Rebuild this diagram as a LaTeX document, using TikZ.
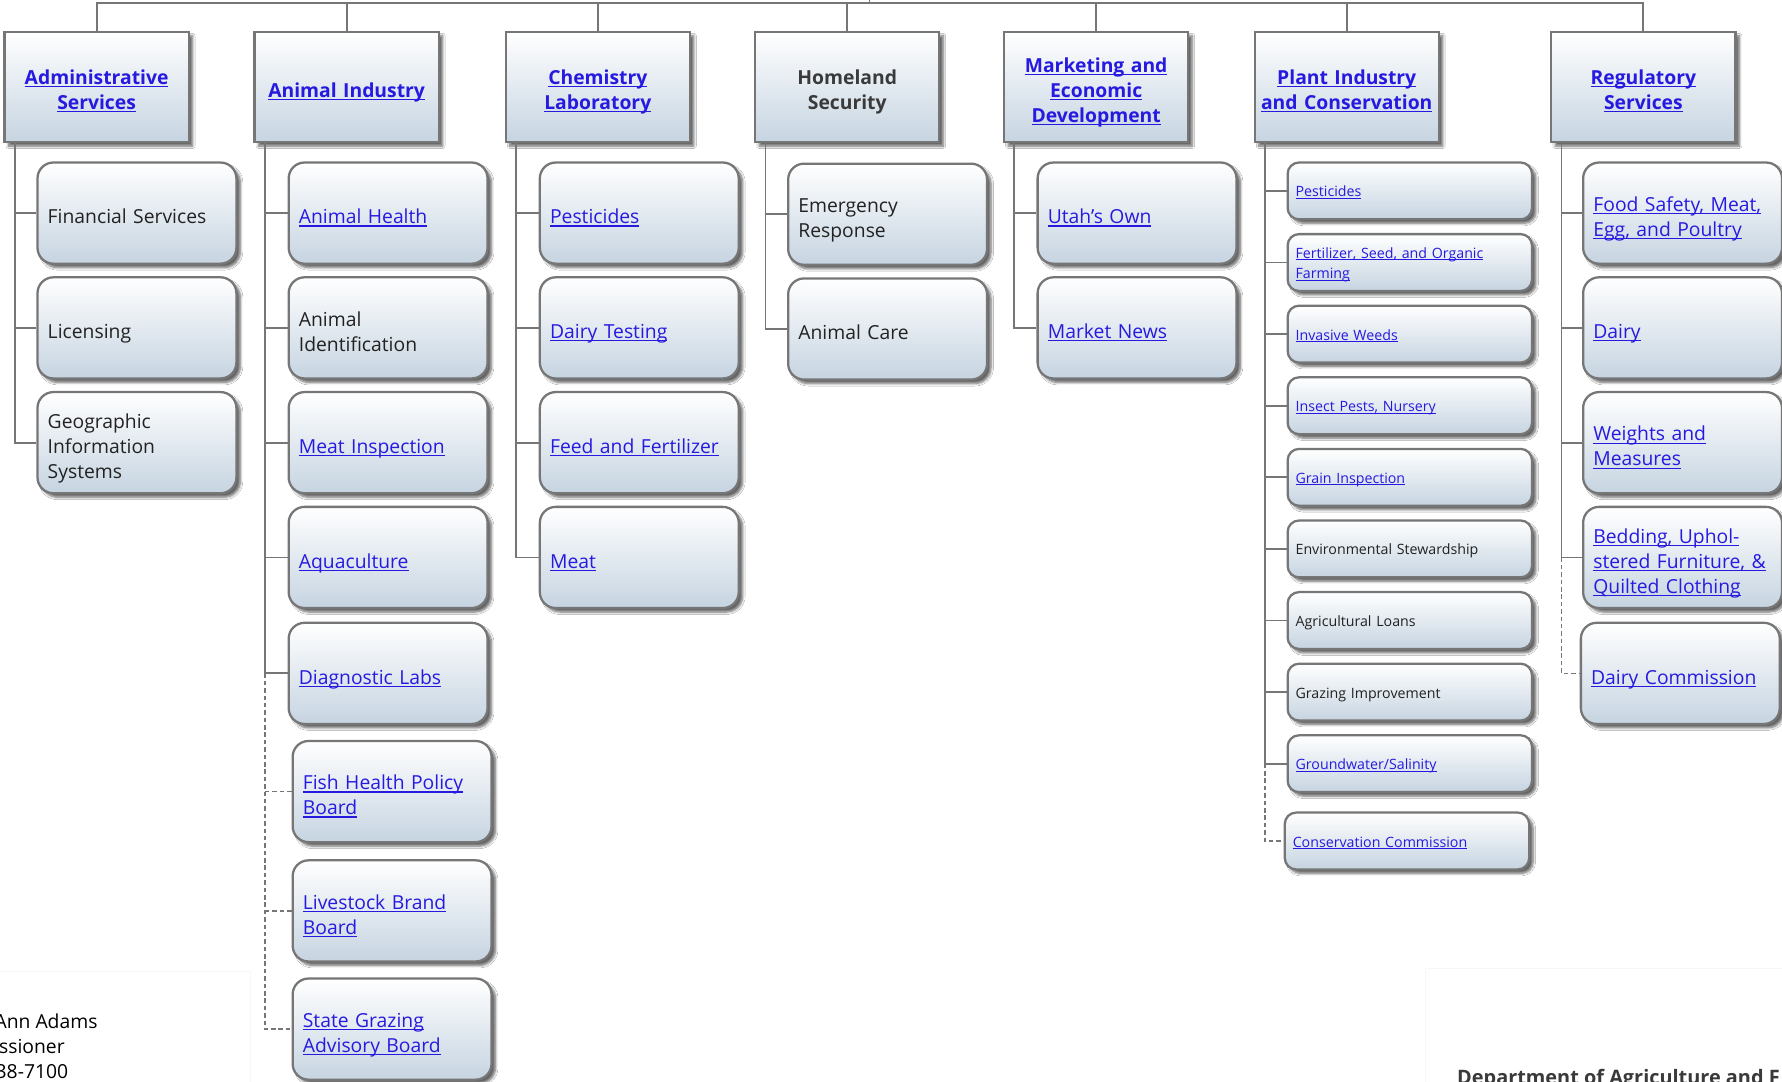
\documentclass[tikz,border=0pt]{standalone}
\usepackage{fontspec}
\setmainfont{Open Sans}
\usetikzlibrary{shadows.blur}
\definecolor{linkblue}{RGB}{38,26,224}
\definecolor{headgray}{RGB}{58,58,58}
\definecolor{textgray}{RGB}{34,34,34}
\definecolor{boxblue}{RGB}{198,212,225}
\definecolor{edgegray}{RGB}{118,118,118}
\newcommand{\lnk}[1]{\textcolor{linkblue}{\setbox0\hbox{#1}\rlap{\rule[-0.14em]{\wd0}{0.06em}}\box0}}
\newcommand{\headstrut}{\rule[-4pt]{0pt}{26pt}}
\newcommand{\bigstrut}{\rule[-4pt]{0pt}{27pt}}
\newcommand{\tailstrut}{\rule[-4pt]{0pt}{21pt}}
\newcommand{\smallstrut}{\rule[-3.2pt]{0pt}{17pt}}

\begin{document}
\begin{tikzpicture}[x=1pt,y=-1pt,
  head/.style={rectangle, draw=edgegray, line width=2pt, top color=white, bottom color=boxblue,
    minimum width=162pt, minimum height=97pt, text width=158pt, align=center, inner sep=0pt,
    font=\fontsize{17}{22}\selectfont\bfseries, text=headgray,
    execute at begin node=\headstrut, execute at end node=\tailstrut,
    blur shadow={shadow xshift=3.5pt, shadow yshift=-3.5pt, shadow blur steps=6, shadow opacity=60}},
  box/.style={rectangle, draw=edgegray, line width=2pt, top color=white, bottom color=boxblue,
    inner ysep=2pt, align=left, text=textgray,
    blur shadow={shadow xshift=3.5pt, shadow yshift=-3.5pt, shadow blur steps=6, shadow opacity=60}},
  unit/.style={box, rounded corners=14pt, text width=157pt, inner xsep=9pt, minimum height=89pt,
    font=\fontsize{17}{22}\selectfont,
    execute at begin node=\bigstrut, execute at end node=\tailstrut},
  small/.style={box, rounded corners=10pt, text width=201pt, inner xsep=7pt, minimum height=50pt,
    font=\fontsize{12.5}{18}\selectfont,
    execute at begin node=\smallstrut, execute at end node=\smallstrut},
  conn/.style={draw=edgegray, line width=1.6pt},
  dashconn/.style={draw=edgegray, line width=1.4pt, dash pattern=on 4pt off 2.5pt},
  foot/.style={anchor=base west, inner sep=0pt, font=\fontsize{17}{22}\selectfont, text=black}]
\useasboundingbox (0,0) rectangle (1568,952);
\clip (0,0) rectangle (1568,952);
\fill [white] (0,0) rectangle (1568,952);
\draw [black!3] (-5,855) rectangle (220,960);
\draw [black!3] (1254,852) rectangle (1580,960);

\node [head] (adm) at (85,76.5) {\lnk{Administrative}\\\lnk{Services}};
\node [head] (ani) at (305,76.5) {\lnk{Animal Industry}};
\node [head] (chm) at (526,76.5) {\lnk{Chemistry}\\\lnk{Laboratory}};
\node [head] (hom) at (745.5,76.5) {Homeland\\Security};
\node [head] (mkt) at (964.5,76.5) {\lnk{Marketing and}\\\lnk{Economic}\\\lnk{Development}};
\node [head] (pln) at (1185,76.5) {\lnk{Plant Industry}\\\lnk{and Conservation}};
\node [head] (reg) at (1446,76.5) {\lnk{Regulatory}\\\lnk{Services}};

\node [unit] (fin) at (120.5,187.5) {Financial Services};
\node [unit] (lic) at (120.5,288.5) {Licensing};
\node [unit] (geo) at (120.5,389.5) {Geographic\\Information\\Systems};

\node [unit] (ahl) at (341.5,187.5) {\lnk{Animal Health}};
\node [unit] (aid) at (341.5,288.5) {Animal\\Identification};
\node [unit] (mti) at (341.5,389.5) {\lnk{Meat Inspection}};
\node [unit] (aqu) at (341.5,490.5) {\lnk{Aquaculture}};
\node [unit] (dia) at (341.5,592.5) {\lnk{Diagnostic Labs}};
\node [unit] (fsh) at (345,696.5) {\lnk{Fish Health Policy}\\\lnk{Board}};
\node [unit] (lvs) at (345,801.5) {\lnk{Livestock Brand}\\\lnk{Board}};
\node [unit] (sgb) at (345,905.5) {\lnk{State Grazing}\\\lnk{Advisory Board}};

\node [unit] (pst) at (562.5,187.5) {\lnk{Pesticides}};
\node [unit] (dty) at (562.5,288.5) {\lnk{Dairy Testing}};
\node [unit] (fef) at (562.5,389.5) {\lnk{Feed and Fertilizer}};
\node [unit] (mea) at (562.5,490.5) {\lnk{Meat}};

\node [unit] (emr) at (781,188.5) {Emergency\\Response};
\node [unit] (acr) at (781,289.5) {Animal Care};

\node [unit] (uto) at (1000.5,187.5) {\lnk{Utah's Own}};
\node [unit] (mnw) at (1000.5,288.5) {\lnk{Market News}};

\node [small] (ppe) at (1240.5,168) {\lnk{Pesticides}};
\node [small] (pfs) at (1240.5,231) {\lnk{Fertilizer, Seed, and Organic}\\\lnk{Farming}};
\node [small] (piw) at (1240.5,294) {\lnk{Invasive Weeds}};
\node [small] (pip) at (1240.5,357) {\lnk{Insect Pests, Nursery}};
\node [small] (pgi) at (1240.5,420) {\lnk{Grain Inspection}};
\node [small] (pes) at (1240.5,483) {Environmental Stewardship};
\node [small] (pal) at (1240.5,546) {Agricultural Loans};
\node [small] (pgr) at (1240.5,609) {Grazing Improvement};
\node [small] (pgw) at (1240.5,672) {\lnk{Groundwater/Salinity}};
\node [small] (pcc) at (1238,740) {\lnk{Conservation Commission}};

\node [unit] (rfs) at (1480.5,187.5) {\lnk{Food Safety, Meat,}\\\lnk{Egg, and Poultry}};
\node [unit] (rda) at (1480.5,288.5) {\lnk{Dairy}};
\node [unit] (rwm) at (1480.5,389.5) {\lnk{Weights and}\\\lnk{Measures}};
\node [unit] (rbd) at (1480.5,490.5) {\lnk{Bedding, Uphol-}\\\lnk{stered Furniture, \&}\\\lnk{Quilted Clothing}};
\node [unit] (rdc) at (1478.5,592.5) {\lnk{Dairy Commission}};

\coordinate (bus) at (765,3);
\coordinate (up) at (765,-5);
\draw [conn] (adm.north) |- (bus) -| (reg.north);
\draw [conn] (bus) -- (up);
\draw [conn] (ani.north) -- (ani.north |- bus);
\draw [conn] (chm.north) -- (chm.north |- bus);
\draw [conn] (hom.north) -- (hom.north |- bus);
\draw [conn] (mkt.north) -- (mkt.north |- bus);
\draw [conn] (pln.north) -- (pln.north |- bus);

\coordinate (admS) at ([xshift=10pt]adm.south west);
\coordinate (aniS) at ([xshift=10pt]ani.south west);
\coordinate (chmS) at ([xshift=10pt]chm.south west);
\coordinate (homS) at ([xshift=10pt]hom.south west);
\coordinate (mktS) at ([xshift=10pt]mkt.south west);
\coordinate (plnS) at ([xshift=10pt]pln.south west);
\coordinate (regS) at ([xshift=10pt]reg.south west);

\draw [conn] (admS) |- (fin.west);
\draw [conn] (admS) |- (lic.west);
\draw [conn] (admS) |- (geo.west);

\draw [conn] (aniS) |- (ahl.west);
\draw [conn] (aniS) |- (aid.west);
\draw [conn] (aniS) |- (mti.west);
\draw [conn] (aniS) |- (aqu.west);
\draw [conn] (aniS) |- (dia.west);
\draw [dashconn] (aniS |- dia.west) |- (sgb.west);
\draw [dashconn] (aniS |- fsh.west) -- (fsh.west);
\draw [dashconn] (aniS |- lvs.west) -- (lvs.west);

\draw [conn] (chmS) |- (pst.west);
\draw [conn] (chmS) |- (dty.west);
\draw [conn] (chmS) |- (fef.west);
\draw [conn] (chmS) |- (mea.west);

\draw [conn] (homS) |- (emr.west);
\draw [conn] (homS) |- (acr.west);

\draw [conn] (mktS) |- (uto.west);
\draw [conn] (mktS) |- (mnw.west);

\draw [conn] (plnS) |- (ppe.west);
\draw [conn] (plnS) |- (pfs.west);
\draw [conn] (plnS) |- (piw.west);
\draw [conn] (plnS) |- (pip.west);
\draw [conn] (plnS) |- (pgi.west);
\draw [conn] (plnS) |- (pes.west);
\draw [conn] (plnS) |- (pal.west);
\draw [conn] (plnS) |- (pgr.west);
\draw [conn] (plnS) |- (pgw.west);
\draw [dashconn] (plnS |- pgw.west) |- (pcc.west);

\draw [conn] (regS) |- (rfs.west);
\draw [conn] (regS) |- (rda.west);
\draw [conn] (regS) |- (rwm.west);
\draw [conn] (regS) |- (rbd.west);
\draw [dashconn] (regS |- rbd.west) |- (rdc.west);

\node [foot] (nm) at (-5,905) {Ann Adams};
\node [foot] (tt) at (-1,927) {ssioner};
\node [foot] (ph) at (-4,949) {38-7100};
\node [foot, font=\fontsize{17.5}{22}\selectfont\bfseries, text=headgray] (dept) at (1282,954) {Department of Agriculture and F};
\end{tikzpicture}
\end{document}
